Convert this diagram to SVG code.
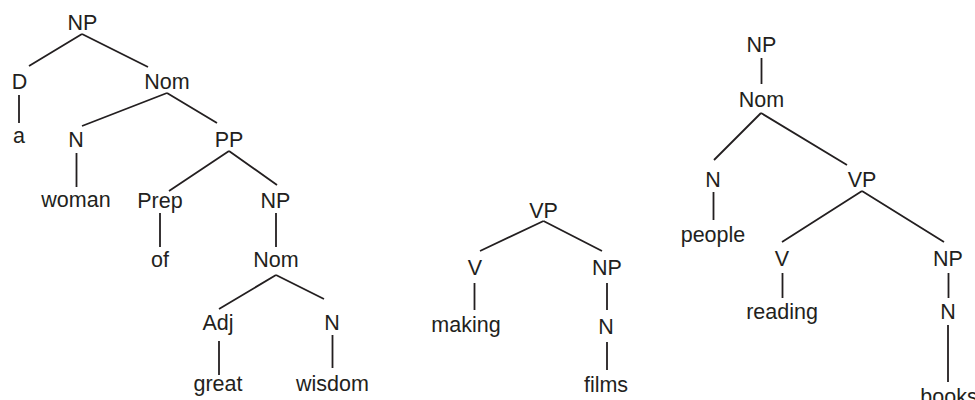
<svg xmlns="http://www.w3.org/2000/svg" width="975" height="400" viewBox="0 0 975 400">
<style>
text{font-family:"Liberation Sans",Arial,sans-serif;font-size:21.5px;fill:#231f20;text-anchor:middle}
.e{stroke:#231f20;stroke-width:1.8;fill:none;stroke-linecap:butt}
</style>
<rect width="975" height="400" fill="#fff"/>
<g id="connectors">
<path class="e" d="M82 34L29 66M82 34L148 67M19 95V123M167 93L82 126M167 93L217 123M76.5 153V187M229 151L169 191M229 151L277 185M160 213V247M276 213V247M276 275L219 309M276 275L324 299M219 341V375M332.5 335V368"/>
<path class="e" d="M543.5 221L480 251M543.5 221L602 251M474.5 283V310M607 283V310M607 342V370"/>
<path class="e" d="M761.5 58V84M761 113L714 160M761 113L847 165M713.5 192V220M862 191L782 242M862 191L944 242M782.5 273V298M948.5 273V298M948 325V382"/>
</g>
<g id="t1_np"><text x="82.5" y="30">NP</text></g>
<g id="t1_d"><text x="19.5" y="89">D</text></g>
<g id="t1_nom"><text x="167" y="89">Nom</text></g>
<g id="t1_a"><text x="19" y="143">a</text></g>
<g id="t1_n"><text x="76" y="146.5">N</text></g>
<g id="t1_pp"><text x="229" y="146.5">PP</text></g>
<g id="t1_woman"><text x="76" y="206.5">woman</text></g>
<g id="t1_prep"><text x="160" y="208">Prep</text></g>
<g id="t1_np2"><text x="275.5" y="208">NP</text></g>
<g id="t1_of"><text x="160" y="267">of</text></g>
<g id="t1_nom2"><text x="276" y="267">Nom</text></g>
<g id="t1_adj"><text x="218" y="330">Adj</text></g>
<g id="t1_n2"><text x="332" y="330">N</text></g>
<g id="t1_great"><text x="218" y="391">great</text></g>
<g id="t1_wisdom"><text x="332.5" y="391">wisdom</text></g>
<g id="t2_vp"><text x="543.5" y="218">VP</text></g>
<g id="t2_v"><text x="475" y="275">V</text></g>
<g id="t2_np"><text x="607" y="275">NP</text></g>
<g id="t2_making"><text x="466" y="331.5">making</text></g>
<g id="t2_n"><text x="606" y="334">N</text></g>
<g id="t2_films"><text x="606" y="391.5">films</text></g>
<g id="t3_np"><text x="761.5" y="52">NP</text></g>
<g id="t3_nom"><text x="761.5" y="106.5">Nom</text></g>
<g id="t3_n"><text x="713" y="186.5">N</text></g>
<g id="t3_vp"><text x="862" y="186.5">VP</text></g>
<g id="t3_people"><text x="713" y="242">people</text></g>
<g id="t3_v"><text x="782" y="266">V</text></g>
<g id="t3_np2"><text x="948" y="266">NP</text></g>
<g id="t3_reading"><text x="782" y="319">reading</text></g>
<g id="t3_n2"><text x="948" y="319">N</text></g>
<g id="t3_books"><text x="949" y="403.5">books</text></g>
</svg>
